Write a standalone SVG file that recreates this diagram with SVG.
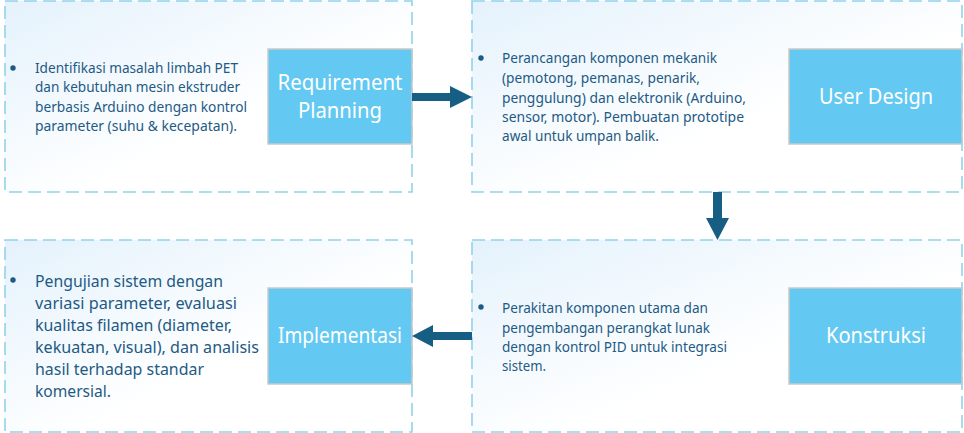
<svg xmlns="http://www.w3.org/2000/svg" width="964" height="433" viewBox="0 0 964 433">
<defs>
<linearGradient id="bg" x1="0" y1="0" x2="1" y2="1">
<stop offset="0" stop-color="#e4f2fc"/>
<stop offset="0.6" stop-color="#ffffff"/>
<stop offset="1" stop-color="#ffffff"/>
</linearGradient>
</defs>
<style>
.cont{fill:url(#bg);stroke:#93d2ea;stroke-width:1.6;stroke-dasharray:13 6}
.box{fill:#63c9f2;stroke:#c9c9c9;stroke-width:1.5}
.lbl{font-family:"Noto Sans","DejaVu Sans",sans-serif;font-size:21px;fill:#ffffff}
.t{font-family:"Noto Sans","DejaVu Sans",sans-serif;font-size:14.5px;fill:#1e5a84}
.tb{font-family:"Noto Sans","DejaVu Sans",sans-serif;font-size:16.5px;fill:#1e5a84}
.dot{fill:#1e5a84}
.arr{fill:#175e84}
</style>
<rect width="964" height="433" fill="#ffffff"/>
<g id="requirement-planning">
<rect class="cont" x="5" y="1" width="407" height="191"/>
<circle class="dot" cx="13" cy="68" r="2.7"/>
<text class="t" x="35" y="73" textLength="203" lengthAdjust="spacingAndGlyphs">Identifikasi masalah limbah PET</text>
<text class="t" x="35" y="92" textLength="205" lengthAdjust="spacingAndGlyphs">dan kebutuhan mesin ekstruder</text>
<text class="t" x="35" y="112" textLength="212" lengthAdjust="spacingAndGlyphs">berbasis Arduino dengan kontrol</text>
<text class="t" x="35" y="131" textLength="202" lengthAdjust="spacingAndGlyphs">parameter (suhu &amp; kecepatan).</text>
<rect class="box" x="268" y="49" width="144" height="95"/>
<text class="lbl" x="340" y="90" text-anchor="middle" textLength="125" lengthAdjust="spacingAndGlyphs">Requirement</text>
<text class="lbl" x="340" y="118" text-anchor="middle" textLength="84" lengthAdjust="spacingAndGlyphs">Planning</text>
</g>
<g id="user-design">
<rect class="cont" x="472" y="1" width="490" height="191"/>
<circle class="dot" cx="481" cy="58" r="2.7"/>
<text class="t" x="502" y="63" textLength="215" lengthAdjust="spacingAndGlyphs">Perancangan komponen mekanik</text>
<text class="t" x="502" y="83" textLength="198" lengthAdjust="spacingAndGlyphs">(pemotong, pemanas, penarik,</text>
<text class="t" x="502" y="103" textLength="244" lengthAdjust="spacingAndGlyphs">penggulung) dan elektronik (Arduino,</text>
<text class="t" x="502" y="122" textLength="242" lengthAdjust="spacingAndGlyphs">sensor, motor). Pembuatan prototipe</text>
<text class="t" x="502" y="141" textLength="157" lengthAdjust="spacingAndGlyphs">awal untuk umpan balik.</text>
<rect class="box" x="789" y="49" width="173" height="95"/>
<text class="lbl" x="876" y="104" text-anchor="middle" textLength="114" lengthAdjust="spacingAndGlyphs">User Design</text>
</g>
<g id="konstruksi">
<rect class="cont" x="472" y="240" width="490" height="192"/>
<circle class="dot" cx="481" cy="307" r="2.7"/>
<text class="t" x="502" y="313" textLength="206" lengthAdjust="spacingAndGlyphs">Perakitan komponen utama dan</text>
<text class="t" x="502" y="333" textLength="208" lengthAdjust="spacingAndGlyphs">pengembangan perangkat lunak</text>
<text class="t" x="502" y="352" textLength="225" lengthAdjust="spacingAndGlyphs">dengan kontrol PID untuk integrasi</text>
<text class="t" x="502" y="371" textLength="44" lengthAdjust="spacingAndGlyphs">sistem.</text>
<rect class="box" x="789" y="288" width="173" height="96"/>
<text class="lbl" x="876" y="343" text-anchor="middle" textLength="100" lengthAdjust="spacingAndGlyphs">Konstruksi</text>
</g>
<g id="implementasi">
<rect class="cont" x="5" y="240" width="407" height="192"/>
<circle class="dot" cx="13" cy="280" r="2.7"/>
<text class="tb" x="35" y="287" textLength="188" lengthAdjust="spacingAndGlyphs">Pengujian sistem dengan</text>
<text class="tb" x="35" y="309" textLength="202" lengthAdjust="spacingAndGlyphs">variasi parameter, evaluasi</text>
<text class="tb" x="35" y="331" textLength="197" lengthAdjust="spacingAndGlyphs">kualitas filamen (diameter,</text>
<text class="tb" x="35" y="353" textLength="224" lengthAdjust="spacingAndGlyphs">kekuatan, visual), dan analisis</text>
<text class="tb" x="35" y="375" textLength="169" lengthAdjust="spacingAndGlyphs">hasil terhadap standar</text>
<text class="tb" x="35" y="397" textLength="76" lengthAdjust="spacingAndGlyphs">komersial.</text>
<rect class="box" x="268" y="288" width="144" height="96"/>
<text class="lbl" x="340" y="343" text-anchor="middle" textLength="124" lengthAdjust="spacingAndGlyphs">Implementasi</text>
</g>
<g id="connectors">
<polygon class="arr" points="412,93 450,93 450,86 472,97 450,108 450,101 412,101"/>
<polygon class="arr" points="713,192 722,192 722,218 729,218 717.5,240 706,218 713,218"/>
<polygon class="arr" points="472,332 433,332 433,325 412,336 433,347 433,340 472,340"/>
</g>
</svg>
